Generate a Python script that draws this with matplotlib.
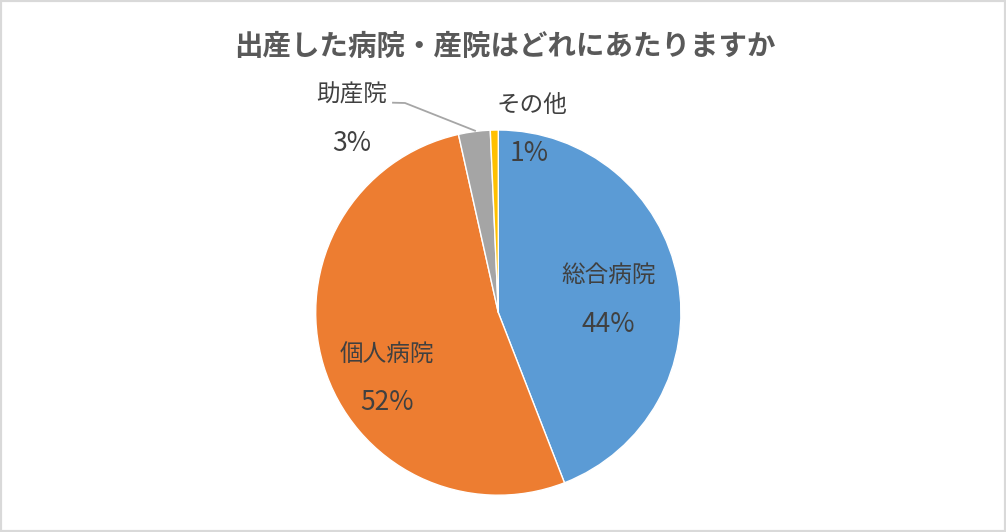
import matplotlib
matplotlib.use("Agg")
import matplotlib.pyplot as plt
from matplotlib.patches import Rectangle

plt.rcParams['font.family'] = ['Noto Sans CJK JP', 'DejaVu Sans']

title = "出産した病院・産院はどれにあたりますか"
categories = ["総合病院", "個人病院", "助産院", "その他"]
values = [44.1, 52.4, 2.8, 0.7]
colors = ["#5B9BD5", "#ED7D31", "#A5A5A5", "#FFC000"]

W, H = 1006, 532
fig = plt.figure(figsize=(W / 100, H / 100), dpi=100)

cx, cy, r = 498.3, 312.6, 182.6
ax = fig.add_axes([(cx - r) / W, (H - cy - r) / H, 2 * r / W, 2 * r / H])
wedges, _ = ax.pie(values, colors=colors, startangle=90, counterclock=False,
                   radius=1.0, wedgeprops=dict(edgecolor="white", linewidth=1))
ax.set_xlim(-1, 1)
ax.set_ylim(-1, 1)
ax.set_aspect("equal")
ax.axis("off")

def d(px, py):
    return (px - cx) / r, (cy - py) / r

label_pos = [((609, 275), (608, 324)),
             ((387, 354), (387, 402)),
             ((352, 95), (351.5, 143)),
             ((531.5, 105.7), (529, 153))]
txtc = "#404040"
for cat, v, (p1, p2) in zip(categories, values, label_pos):
    x1, y1 = d(*p1)
    x2, y2 = d(*p2)
    ax.text(x1, y1, cat, ha="center", va="center", fontsize=17, color=txtc, clip_on=False)
    ax.text(x2, y2, f"{v:.0f}%", ha="center", va="center", fontsize=19, color=txtc, clip_on=False)

# leader line for 助産院
lx = [d(393, 102.7)[0], d(405, 103)[0], d(475, 130.7)[0]]
ly = [d(393, 102.7)[1], d(405, 103)[1], d(475, 130.7)[1]]
ax.plot(lx, ly, color="#A6A6A6", linewidth=1.3, clip_on=False)

fig.text(505 / W, 1 - 47 / H, title, ha="center", va="center", fontsize=20.5,
         fontweight="bold", color="#595959")

fig.patches.append(Rectangle((0, 0), 1, 1, transform=fig.transFigure, fill=False,
                             edgecolor="#D9D9D9", linewidth=3))

fig.savefig("out.png", dpi=100)
